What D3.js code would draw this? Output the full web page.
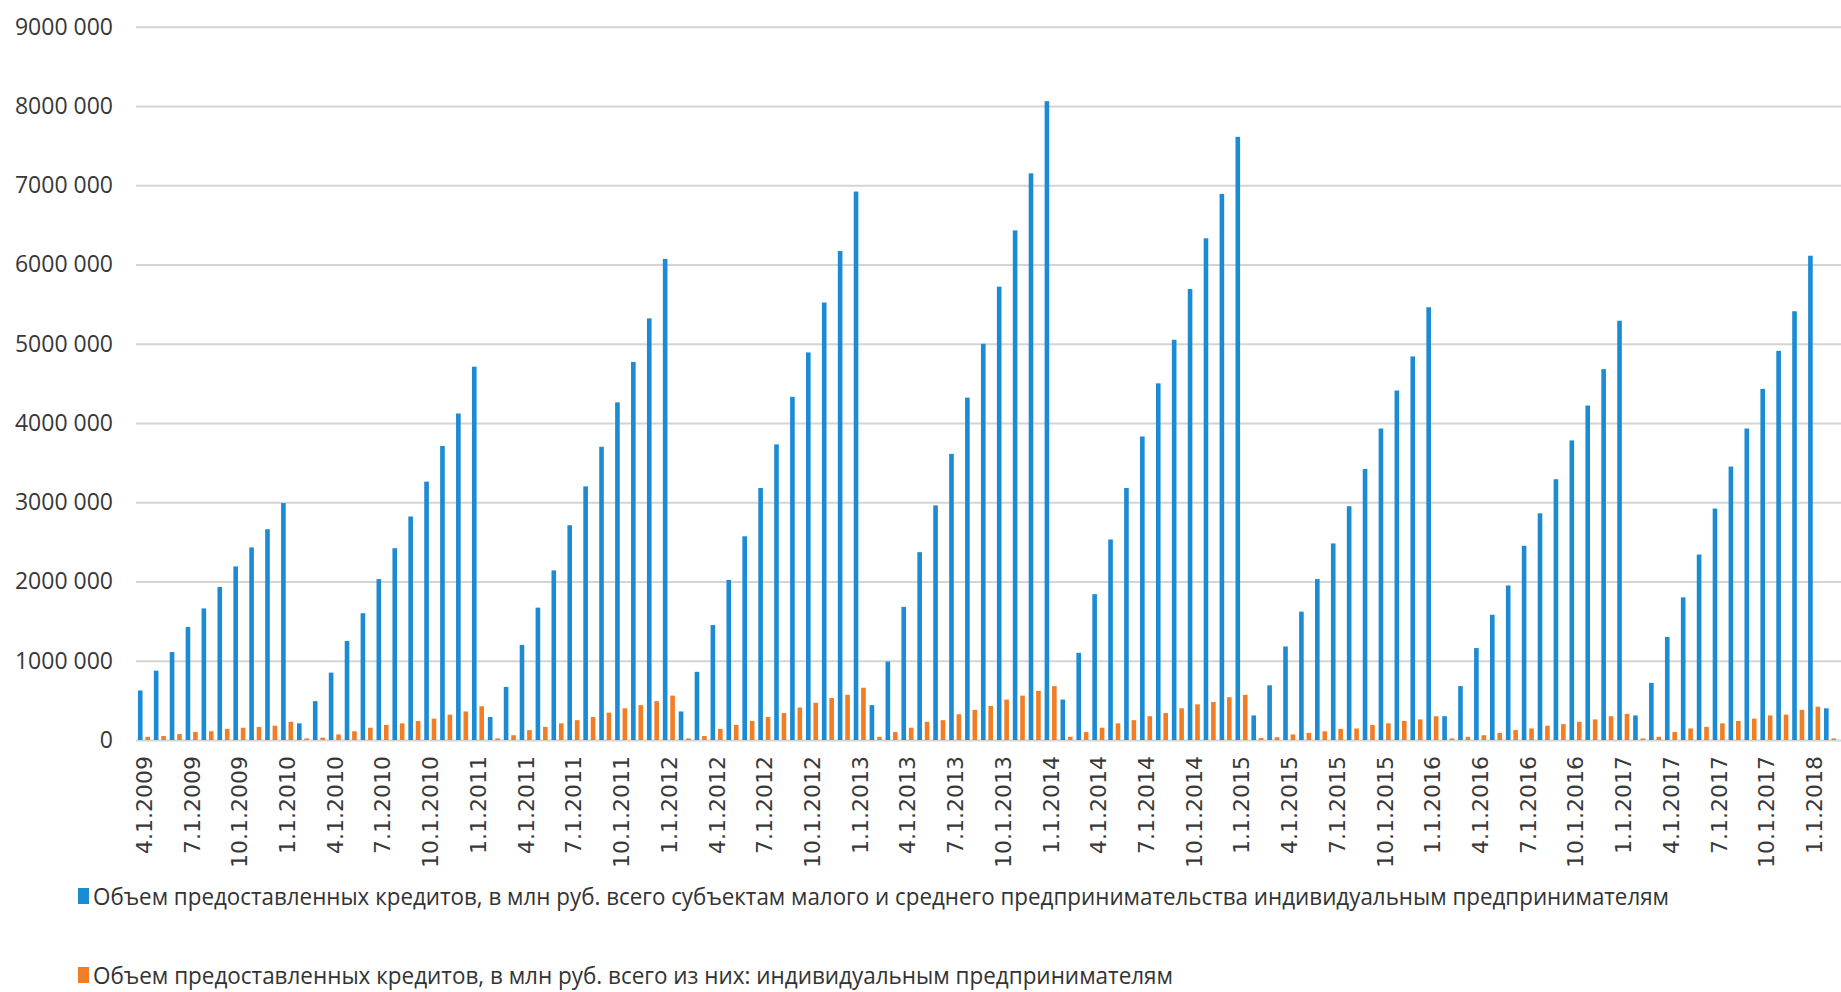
<!DOCTYPE html>
<html>
<head>
<meta charset="utf-8">
<script src="https://cdn.jsdelivr.net/npm/d3@7"></script>
<style>
  html, body { margin: 0; padding: 0; background: #ffffff; }
  svg { display: block; }
</style>
</head>
<body>
<svg id="chart" width="1841" height="992"></svg>
<script>
// Monthly reporting dates (cumulative since the start of each year)
const categories = [
  "4.1.2009","5.1.2009","6.1.2009","7.1.2009","8.1.2009","9.1.2009","10.1.2009","11.1.2009","12.1.2009",
  "1.1.2010","2.1.2010","3.1.2010","4.1.2010","5.1.2010","6.1.2010","7.1.2010","8.1.2010","9.1.2010","10.1.2010","11.1.2010","12.1.2010",
  "1.1.2011","2.1.2011","3.1.2011","4.1.2011","5.1.2011","6.1.2011","7.1.2011","8.1.2011","9.1.2011","10.1.2011","11.1.2011","12.1.2011",
  "1.1.2012","2.1.2012","3.1.2012","4.1.2012","5.1.2012","6.1.2012","7.1.2012","8.1.2012","9.1.2012","10.1.2012","11.1.2012","12.1.2012",
  "1.1.2013","2.1.2013","3.1.2013","4.1.2013","5.1.2013","6.1.2013","7.1.2013","8.1.2013","9.1.2013","10.1.2013","11.1.2013","12.1.2013",
  "1.1.2014","2.1.2014","3.1.2014","4.1.2014","5.1.2014","6.1.2014","7.1.2014","8.1.2014","9.1.2014","10.1.2014","11.1.2014","12.1.2014",
  "1.1.2015","2.1.2015","3.1.2015","4.1.2015","5.1.2015","6.1.2015","7.1.2015","8.1.2015","9.1.2015","10.1.2015","11.1.2015","12.1.2015",
  "1.1.2016","2.1.2016","3.1.2016","4.1.2016","5.1.2016","6.1.2016","7.1.2016","8.1.2016","9.1.2016","10.1.2016","11.1.2016","12.1.2016",
  "1.1.2017","2.1.2017","3.1.2017","4.1.2017","5.1.2017","6.1.2017","7.1.2017","8.1.2017","9.1.2017","10.1.2017","11.1.2017","12.1.2017",
  "1.1.2018","2.1.2018"
];

// Dates shown on the horizontal axis (every quarter)
const tickLabels = [
  "4.1.2009","7.1.2009","10.1.2009",
  "1.1.2010","4.1.2010","7.1.2010","10.1.2010",
  "1.1.2011","4.1.2011","7.1.2011","10.1.2011",
  "1.1.2012","4.1.2012","7.1.2012","10.1.2012",
  "1.1.2013","4.1.2013","7.1.2013","10.1.2013",
  "1.1.2014","4.1.2014","7.1.2014","10.1.2014",
  "1.1.2015","4.1.2015","7.1.2015","10.1.2015",
  "1.1.2016","4.1.2016","7.1.2016","10.1.2016",
  "1.1.2017","4.1.2017","7.1.2017","10.1.2017",
  "1.1.2018"
];

// Loans to small and medium enterprises, total (mln rub.)
const totalSme = [
  625000, 875000, 1110000, 1425000, 1660000, 1930000, 2190000, 2430000, 2660000,
  2990000, 210000, 490000, 850000, 1250000, 1600000, 2030000, 2420000, 2820000, 3260000, 3710000, 4120000,
  4710000, 290000, 670000, 1200000, 1670000, 2140000, 2710000, 3200000, 3700000, 4260000, 4770000, 5320000,
  6070000, 360000, 860000, 1450000, 2020000, 2570000, 3180000, 3730000, 4330000, 4890000, 5520000, 6170000,
  6920000, 440000, 990000, 1680000, 2370000, 2960000, 3610000, 4320000, 5000000, 5720000, 6430000, 7150000,
  8060000, 510000, 1100000, 1840000, 2530000, 3180000, 3830000, 4500000, 5050000, 5690000, 6330000, 6890000,
  7610000, 310000, 690000, 1180000, 1620000, 2030000, 2480000, 2950000, 3420000, 3930000, 4410000, 4840000,
  5460000, 300000, 680000, 1160000, 1580000, 1950000, 2450000, 2860000, 3290000, 3780000, 4220000, 4680000,
  5290000, 310000, 720000, 1300000, 1800000, 2340000, 2920000, 3450000, 3930000, 4430000, 4910000, 5410000,
  6110000, 400000
];

// Of which: loans to individual entrepreneurs (mln rub.)
const individuals = [
  40000, 50000, 75000, 100000, 110000, 140000, 155000, 165000, 180000,
  230000, 20000, 30000, 70000, 110000, 155000, 190000, 210000, 240000, 270000, 320000, 360000,
  425000, 20000, 60000, 125000, 165000, 210000, 250000, 290000, 345000, 400000, 440000, 490000,
  560000, 20000, 50000, 140000, 190000, 240000, 290000, 340000, 410000, 470000, 530000, 570000,
  660000, 40000, 100000, 155000, 230000, 250000, 325000, 380000, 430000, 510000, 560000, 620000,
  680000, 40000, 100000, 155000, 210000, 250000, 300000, 340000, 400000, 450000, 480000, 540000,
  570000, 25000, 35000, 70000, 90000, 110000, 140000, 145000, 190000, 210000, 240000, 260000,
  300000, 20000, 40000, 60000, 90000, 125000, 145000, 180000, 200000, 230000, 260000, 300000,
  330000, 20000, 40000, 100000, 145000, 165000, 210000, 240000, 270000, 310000, 320000, 380000,
  420000, 20000
];

const yTicks = [0, 1000000, 2000000, 3000000, 4000000, 5000000, 6000000, 7000000, 8000000, 9000000];
const yTickLabels = ["0", "1000 000", "2000 000", "3000 000", "4000 000", "5000 000", "6000 000", "7000 000", "8000 000", "9000 000"];

const seriesNames = [
  "Объем предоставленных кредитов, в млн руб. всего субъектам малого и среднего предпринимательства индивидуальным предпринимателям",
  "Объем предоставленных кредитов, в млн руб. всего из них: индивидуальным предпринимателям"
];
const seriesColors = ["#1b8bd3", "#f27d25"];

const svg = d3.select("#chart");

const plotLeft = 136, plotRight = 1838, plotTop = 26.7, plotBottom = 740;

const x0 = d3.scaleBand().domain(categories).range([plotLeft, plotRight]).paddingInner(0).paddingOuter(0);
const x1 = d3.scaleBand().domain([0, 1]).range([0, x0.bandwidth()]).paddingInner(0.38).paddingOuter(0.26);
const y = d3.scaleLinear().domain([0, 9000000]).range([plotBottom, plotTop]);

// Value axis with horizontal gridlines
const yAxis = d3.axisLeft(y)
  .tickValues(yTicks)
  .tickFormat((d, i) => yTickLabels[i])
  .tickSize(-(1841 - plotLeft))
  .tickPadding(23);

svg.append("g")
  .attr("transform", `translate(${plotLeft},0)`)
  .call(yAxis)
  .call(g => g.select(".domain").remove())
  .call(g => g.selectAll(".tick line").attr("stroke", "#d4d4d4").attr("stroke-width", 2))
  .call(g => g.selectAll(".tick text")
    .attr("font-family", "'Open Sans', sans-serif")
    .attr("font-size", 23)
    .attr("fill", "#383838"));

// Grouped bars: total on the left, individual entrepreneurs on the right
const rows = categories.map((c, i) => ({ c, v: [totalSme[i], individuals[i]] }));

svg.append("g")
  .selectAll("g")
  .data(rows)
  .join("g")
  .attr("transform", d => `translate(${x0(d.c)},0)`)
  .selectAll("rect")
  .data(d => d.v.map((v, k) => ({ k, v })))
  .join("rect")
  .attr("x", d => x1(d.k))
  .attr("width", x1.bandwidth())
  .attr("y", d => y(d.v))
  .attr("height", d => y(0) - y(d.v))
  .attr("fill", d => seriesColors[d.k]);

// Date axis with vertical labels
const xAxis = d3.axisBottom(x0).tickValues(tickLabels).tickSize(0).tickPadding(0);
const gx = svg.append("g")
  .attr("transform", `translate(0,${plotBottom})`)
  .call(xAxis);
gx.select(".domain").remove();
gx.selectAll(".tick text")
  .attr("font-family", "'DejaVu Sans', sans-serif")
  .attr("font-size", 22)
  .attr("fill", "#383838")
  .attr("transform", "rotate(-90)")
  .attr("text-anchor", "end")
  .attr("x", -16)
  .attr("y", 0)
  .attr("dy", "0.36em");

// Legend
const legendY = [897, 976];
const legendWidths = [1576, 1080];
const legend = svg.append("g")
  .selectAll("g")
  .data(seriesNames)
  .join("g")
  .attr("transform", (d, i) => `translate(78,${legendY[i]})`);

legend.append("rect")
  .attr("x", 0)
  .attr("y", -9)
  .attr("width", 11)
  .attr("height", 16)
  .attr("fill", (d, i) => seriesColors[i]);

legend.append("text")
  .attr("x", 15)
  .attr("y", 0)
  .attr("dy", "0.35em")
  .attr("font-family", "'Open Sans', sans-serif")
  .attr("font-size", 23)
  .attr("fill", "#333333")
  .attr("textLength", (d, i) => legendWidths[i])
  .attr("lengthAdjust", "spacingAndGlyphs")
  .text(d => d);
</script>
</body>
</html>
